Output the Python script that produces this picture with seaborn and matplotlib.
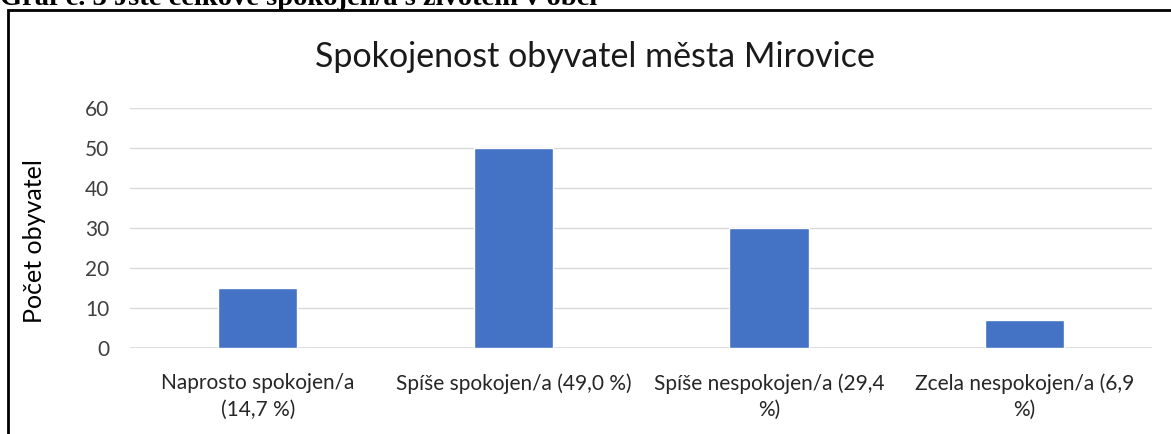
import matplotlib
matplotlib.use('Agg')
import matplotlib.pyplot as plt
import matplotlib.patches as mpatches
import seaborn as sns
import pandas as pd

# data
kategorie = ['Naprosto spokojen/a\n(14,7 %)',
             'Spíše spokojen/a (49,0 %)',
             'Spíše nespokojen/a (29,4\n%)',
             'Zcela nespokojen/a (6,9\n%)']
pocty = [15, 50, 30, 7]
y_ticks = [0, 10, 20, 30, 40, 50, 60]

sns.set_theme(style='white')
plt.rcParams['font.family'] = ['Lato', 'DejaVu Sans']

df = pd.DataFrame({'kategorie': kategorie, 'pocet': pocty})

W, H = 1171, 434
fig = plt.figure(figsize=(W / 100, H / 100), dpi=100)
ax = fig.add_axes([0.111, 0.198, 0.873, 0.553])

sns.barplot(data=df, x='kategorie', y='pocet', color='#4472C4',
            width=0.31, saturation=1, ax=ax, zorder=3)

ax.set_ylim(0, 60)
ax.set_yticks(y_ticks)
ax.set_xlim(-0.5, 3.5)
ax.yaxis.grid(True, color='#d9d9d9', linewidth=1)
ax.set_axisbelow(True)
for s in ax.spines.values():
    s.set_visible(False)
ax.axhline(0, color='#d9d9d9', linewidth=1.2, zorder=2)

ax.tick_params(axis='y', labelsize=15, colors='#404040', length=0, pad=15)
ax.tick_params(axis='x', labelsize=15, colors='#262626', length=0, pad=18)
for lbl in ax.get_xticklabels():
    lbl.set_linespacing(1.4)
ax.set_xlabel('')
ax.set_ylabel('')

# axis title placed like the original
fig.text(35 / W, 1 - 241 / H, 'Počet obyvatel', rotation=90, fontsize=18,
         color='black', ha='center', va='center')

# chart title, centred on the chart frame
fig.text(595 / W, 1 - 57 / H, 'Spokojenost obyvatel města Mirovice',
         fontsize=24.5, color='#1a1a1a', ha='center', va='center')

# chart frame
frame = mpatches.Rectangle((8 / W, -0.1), 1.2, 1 - 10 / H + 0.1,
                           transform=fig.transFigure, fill=False,
                           edgecolor='black', linewidth=2, zorder=10)
fig.patches.append(frame)

# clipped heading above the chart
fig.text(0.0, 1 - 5 / H, 'Graf č. 3 Jste celkově spokojen/a s životem v obci',
         fontsize=20.5, fontweight='bold', family='Liberation Serif',
         va='baseline', ha='left', color='black')

fig.savefig('out.png', dpi=100)
